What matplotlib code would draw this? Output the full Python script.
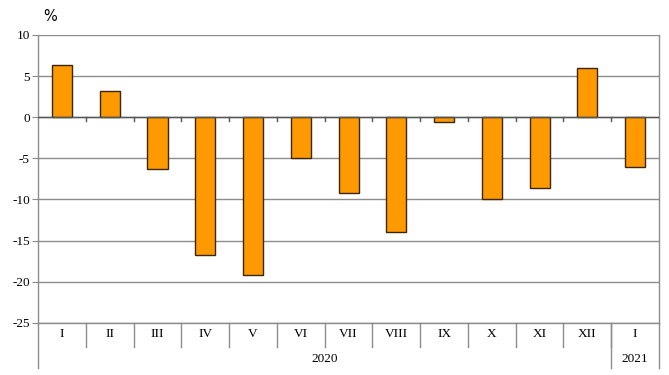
import numpy as np
import matplotlib.pyplot as plt

months = ['I', 'II', 'III', 'IV', 'V', 'VI', 'VII', 'VIII', 'IX', 'X', 'XI', 'XII', 'I']
values = [6.3, 3.2, -6.3, -16.8, -19.2, -5.0, -9.2, -14.0, -0.6, -10.0, -8.6, 6.0, -6.1]
years = ['2020', '2021']
year_counts = [12, 1]

grid_col = '#8c8c8c'
serif = 'Liberation Serif'

fig = plt.figure(figsize=(6.69, 3.75), dpi=100)
ax = fig.add_axes([0.057, 0.139, 0.928, 0.768])

x = np.arange(len(months))
ax.bar(x, values, width=0.42, color='#ff9900', edgecolor='#3a2600', linewidth=1.0, zorder=3)

ax.set_xlim(-0.5, len(months) - 0.5)
ax.set_ylim(-25, 10)
ax.set_yticks(np.arange(-25, 11, 5))
ax.set_yticklabels([str(v) for v in range(-25, 11, 5)], fontfamily=serif, fontsize=9.5)
ax.yaxis.grid(True, color=grid_col, linewidth=1.0, zorder=0)
ax.tick_params(axis='y', length=4, color=grid_col, pad=2)

for side in ['left', 'right', 'bottom']:
    ax.spines[side].set_color(grid_col)
    ax.spines[side].set_linewidth(1.0)
ax.spines['top'].set_visible(False)

# zero line with small downward ticks between categories
ax.axhline(0, color='#555555', linewidth=1.0, zorder=4)
ax.set_xticks([])
for b in np.arange(0.5, len(months) - 0.5, 1):
    ax.plot([b, b], [0, -0.5], color='#555555', linewidth=1.0, zorder=4)

# category axis below the plot
trans = ax.get_xaxis_transform()
row1 = -0.085
row2 = -0.155
for i, m in enumerate(months):
    ax.text(i, -0.04, m, transform=trans, ha='center', va='center',
            fontfamily=serif, fontsize=9.5)
for b in np.arange(0.5, len(months) - 0.5, 1):
    ax.plot([b, b], [0, row1], transform=trans, color=grid_col, linewidth=1.0, clip_on=False)

start = -0.5
edges = [start]
for y_lab, n in zip(years, year_counts):
    end = start + n
    ax.text((start + end) / 2, -0.125, y_lab, transform=trans, ha='center', va='center',
            fontfamily=serif, fontsize=9.5)
    edges.append(end)
    start = end
for e in edges:
    ax.plot([e, e], [0, row2], transform=trans, color=grid_col, linewidth=1.0, clip_on=False)

fig.text(0.065, 0.955, '%', ha='left', va='center', fontsize=10.5, fontfamily='DejaVu Sans')

fig.savefig('out.png', dpi=100)
